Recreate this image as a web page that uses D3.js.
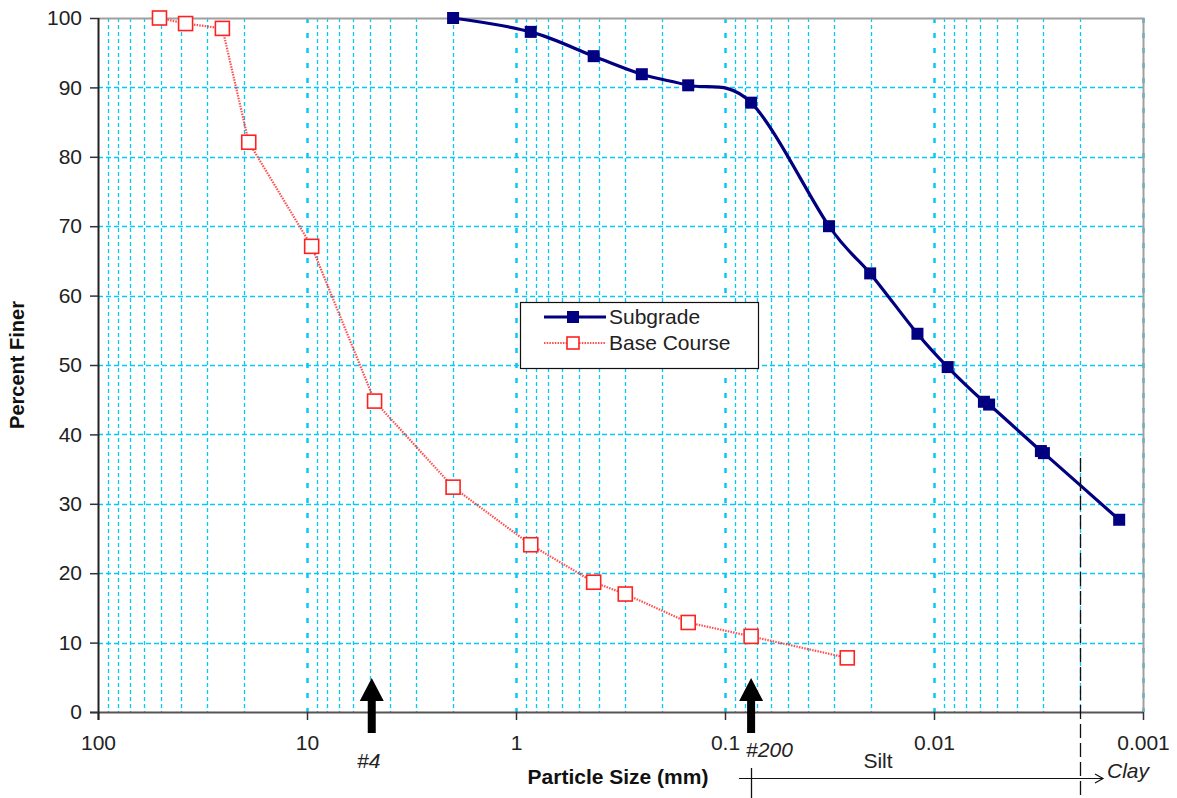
<!DOCTYPE html>
<html>
<head>
<meta charset="utf-8">
<script src="https://cdn.jsdelivr.net/npm/d3@7"></script>
<style>
  html, body { margin: 0; padding: 0; background: #fff; }
  svg { display: block; font-family: Arial, "Liberation Sans", sans-serif; }
</style>
</head>
<body>
<svg id="chart" width="1177" height="798"></svg>
<script>
// Grain size distribution: particle size (mm) vs percent finer
const subgradeSize  = [2.0, 0.85, 0.425, 0.25, 0.15, 0.075, 0.0318, 0.0202, 0.0120, 0.0086, 0.00577, 0.00545, 0.00308, 0.00298, 0.0013];
const subgradeFiner = [100, 98.0, 94.5, 91.9, 90.3, 87.8, 70.0, 63.2, 54.5, 49.7, 44.7, 44.3, 37.6, 37.3, 27.7];

const baseSize  = [50.8, 38.1, 25.4, 19.0, 9.5, 4.75, 2.0, 0.85, 0.425, 0.30, 0.15, 0.075, 0.026];
const baseFiner = [100, 99.2, 98.5, 82.1, 67.1, 44.8, 32.4, 24.1, 18.7, 17.0, 12.9, 10.9, 7.8];

const xTickLabels = ["100", "10", "1", "0.1", "0.01", "0.001"];
const xTickValues = [100, 10, 1, 0.1, 0.01, 0.001];
const yTickValues = [0, 10, 20, 30, 40, 50, 60, 70, 80, 90, 100];

const sieveMarks = [{ label: "#4", size: 4.9 }, { label: "#200", size: 0.075 }];
const clayBoundary = 0.002;

(function draw() {
  const svg = d3.select("#chart");
  const pl = 98, pr = 1143, pt = 18, pb = 712;

  const x = d3.scaleLog().domain([100, 0.001]).range([pl, pr]);
  const y = d3.scaleLinear().domain([0, 100]).range([pb, pt]);

  const grid = "#08c8f6";

  // vertical grid: every 1..9 step of each decade, decades heavier
  const allTicks = x.ticks();
  const isDecade = v => Math.abs(Math.log10(v) - Math.round(Math.log10(v))) < 1e-9;
  svg.append("g").selectAll("line")
    .data(allTicks.filter(v => v < 100))
    .join("line")
    .attr("x1", d => Math.round(x(d)) + 0.5)
    .attr("x2", d => Math.round(x(d)) + 0.5)
    .attr("y1", pt).attr("y2", pb)
    .attr("stroke", grid)
    .attr("stroke-width", d => isDecade(d) ? 2.5 : 1.3)
    .attr("stroke-dasharray", d => isDecade(d) ? "5,10" : "4,3");

  // horizontal grid
  svg.append("g").selectAll("line")
    .data(yTickValues.filter(v => v > 0 && v < 100))
    .join("line")
    .attr("x1", pl).attr("x2", pr)
    .attr("y1", d => Math.round(y(d)) + 0.5)
    .attr("y2", d => Math.round(y(d)) + 0.5)
    .attr("stroke", grid)
    .attr("stroke-width", 1.4)
    .attr("stroke-dasharray", "5,3");

  // plot frame (top / right)
  svg.append("path")
    .attr("d", `M${pl},${pt + 0.5}H${pr + 0.5}V${pb}`)
    .attr("fill", "none").attr("stroke", "#a0a0a0").attr("stroke-width", 2);

  // x axis
  const xAxis = d3.axisBottom(x).tickValues(xTickValues)
    .tickFormat((d, i) => xTickLabels[i]).tickSize(8).tickPadding(14);
  const gx = svg.append("g").attr("transform", `translate(0,${pb})`).call(xAxis);
  gx.select(".domain").attr("stroke", "#555").attr("stroke-width", 2).attr("d", `M${pl - 8},0.5H${pr}`);
  gx.selectAll(".tick line").attr("stroke", "#333").attr("stroke-width", 1.5);
  gx.selectAll(".tick text").attr("font-size", 21).attr("fill", "#222")
    .attr("font-family", "Arial, 'Liberation Sans', sans-serif").attr("dy", "0.71em").attr("y", 23);

  // y axis
  const yAxis = d3.axisLeft(y).tickValues(yTickValues).tickSize(8).tickPadding(8);
  const gy = svg.append("g").attr("transform", `translate(${pl},0)`).call(yAxis);
  gy.select(".domain").attr("stroke", "#222").attr("stroke-width", 2).attr("d", `M0.5,${pt}V${pb + 8}`);
  gy.selectAll(".tick line").attr("stroke", "#333").attr("stroke-width", 1.5);
  gy.selectAll(".tick text").attr("font-size", 21).attr("fill", "#222")
    .attr("font-family", "Arial, 'Liberation Sans', sans-serif");

  // axis titles
  svg.append("text").attr("x", 618).attr("y", 784).attr("text-anchor", "middle")
    .attr("font-size", 21).attr("font-weight", "bold").attr("fill", "#111")
    .text("Particle Size (mm)");
  svg.append("text").attr("transform", "translate(24,365) rotate(-90)").attr("text-anchor", "middle")
    .attr("font-size", 20).attr("font-weight", "bold").attr("fill", "#111")
    .text("Percent Finer");

  // base course series
  const basePts = baseSize.map((s, i) => [x(s), y(baseFiner[i])]);
  svg.append("path")
    .attr("d", d3.line()(basePts))
    .attr("fill", "none").attr("stroke", "#ff3030").attr("stroke-width", 2.2)
    .attr("stroke-dasharray", "1.5,1.2").attr("opacity", 0.85);
  svg.append("g").selectAll("rect")
    .data(basePts).join("rect")
    .attr("x", d => d[0] - 7).attr("y", d => d[1] - 7)
    .attr("width", 14).attr("height", 14)
    .attr("fill", "#fff").attr("stroke", "#ff2020").attr("stroke-width", 1.6);

  // subgrade series (smoothed)
  const subPts = subgradeSize.map((s, i) => [x(s), y(subgradeFiner[i])]);
  svg.append("path")
    .attr("d", d3.line().curve(d3.curveCatmullRom.alpha(0))(subPts))
    .attr("fill", "none").attr("stroke", "#000080").attr("stroke-width", 3.2);
  svg.append("g").selectAll("rect")
    .data(subPts).join("rect")
    .attr("x", d => d[0] - 6).attr("y", d => d[1] - 6)
    .attr("width", 12).attr("height", 12)
    .attr("fill", "#000080");

  // legend
  const lg = svg.append("g");
  lg.append("rect").attr("x", 520.5).attr("y", 302.5).attr("width", 238).attr("height", 66)
    .attr("fill", "#fff").attr("stroke", "#111").attr("stroke-width", 1.2);
  lg.append("line").attr("x1", 544).attr("x2", 606).attr("y1", 317).attr("y2", 317)
    .attr("stroke", "#000080").attr("stroke-width", 3.2);
  lg.append("rect").attr("x", 567).attr("y", 311).attr("width", 12).attr("height", 12).attr("fill", "#000080");
  lg.append("line").attr("x1", 544).attr("x2", 606).attr("y1", 343).attr("y2", 343)
    .attr("stroke", "#ff3030").attr("stroke-width", 2.2).attr("stroke-dasharray", "1.5,1.2").attr("opacity", 0.85);
  lg.append("rect").attr("x", 567).attr("y", 337).attr("width", 12).attr("height", 12)
    .attr("fill", "#fff").attr("stroke", "#ff2020").attr("stroke-width", 1.6);
  lg.append("text").attr("x", 609).attr("y", 324).attr("font-size", 21).attr("fill", "#222").text("Subgrade");
  lg.append("text").attr("x", 609).attr("y", 350).attr("font-size", 21).attr("fill", "#222").text("Base Course");

  // sieve arrows
  const arrows = svg.append("g");
  sieveMarks.forEach(m => {
    const cx = x(m.size);
    arrows.append("path")
      .attr("d", `M${cx},678 L${cx + 12},701 L${cx + 4},701 L${cx + 4},733 L${cx - 4},733 L${cx - 4},701 L${cx - 12},701 Z`)
      .attr("fill", "#000");
  });
  svg.append("text").attr("x", x(sieveMarks[0].size) - 3).attr("y", 768).attr("text-anchor", "middle")
    .attr("font-size", 21).attr("font-style", "italic").attr("fill", "#222").text(sieveMarks[0].label);
  svg.append("text").attr("x", x(sieveMarks[1].size) - 5).attr("y", 757).attr("text-anchor", "start")
    .attr("font-size", 21).attr("font-style", "italic").attr("fill", "#222").text(sieveMarks[1].label);

  // silt / clay range
  const xs = Math.round(x(sieveMarks[1].size)) + 0.5;
  const xc = Math.round(x(clayBoundary)) + 0.5;
  svg.append("line").attr("x1", xc).attr("x2", xc).attr("y1", 458).attr("y2", 798)
    .attr("stroke", "#111").attr("stroke-width", 1.3).attr("stroke-dasharray", "14,5");
  svg.append("line").attr("x1", xs).attr("x2", xs).attr("y1", 768).attr("y2", 798)
    .attr("stroke", "#111").attr("stroke-width", 1.3);
  svg.append("line").attr("x1", 739).attr("x2", 1103).attr("y1", 778.5).attr("y2", 778.5)
    .attr("stroke", "#111").attr("stroke-width", 1.2);
  svg.append("path").attr("d", "M1095,774 L1103,778.5 L1095,783")
    .attr("fill", "none").attr("stroke", "#111").attr("stroke-width", 1.2);
  svg.append("text").attr("x", 878).attr("y", 768).attr("text-anchor", "middle")
    .attr("font-size", 21).attr("fill", "#222").text("Silt");
  svg.append("text").attr("x", 1107).attr("y", 778).attr("font-size", 21)
    .attr("font-style", "italic").attr("fill", "#222").text("Clay");
})();
</script>
</body>
</html>
